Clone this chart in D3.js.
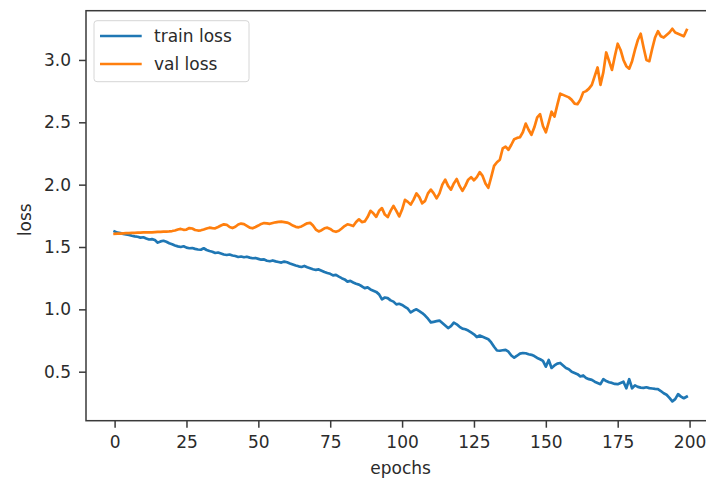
<!DOCTYPE html>
<html>
<head>
<meta charset="utf-8">
<script src="https://cdn.jsdelivr.net/npm/d3@7"></script>
<style>
  body { margin: 0; background: #fff; }
  svg text { font-family: "DejaVu Sans", sans-serif; fill: #2b2b2b; }
</style>
</head>
<body>
<div id="chart"></div>
<script>
// losses per epoch
var trainLoss = [
  1.625, 1.615, 1.612, 1.605, 1.600, 1.596, 1.590, 1.585, 1.582, 1.575,
  1.578, 1.568, 1.560, 1.563, 1.556, 1.535, 1.545, 1.550, 1.542, 1.530,
  1.522, 1.512, 1.505, 1.500, 1.506, 1.495, 1.490, 1.492, 1.485, 1.480,
  1.478, 1.490, 1.476, 1.468, 1.462, 1.452, 1.456, 1.448, 1.440, 1.436,
  1.440, 1.432, 1.428, 1.420, 1.424, 1.418, 1.422, 1.415, 1.410, 1.412,
  1.405, 1.398, 1.400, 1.390, 1.386, 1.392, 1.385, 1.380, 1.375, 1.383,
  1.378, 1.368, 1.360, 1.352, 1.345, 1.340, 1.348, 1.338, 1.330, 1.322,
  1.316, 1.320, 1.310, 1.300, 1.292, 1.285, 1.272, 1.276, 1.262, 1.250,
  1.240, 1.222, 1.228, 1.215, 1.205, 1.198, 1.185, 1.170, 1.176, 1.160,
  1.150, 1.140, 1.120, 1.080, 1.095, 1.090, 1.072, 1.062, 1.040, 1.045,
  1.035, 1.020, 1.005, 0.975, 0.990, 1.000, 0.985, 0.970, 0.950, 0.925,
  0.895, 0.900, 0.905, 0.910, 0.890, 0.870, 0.850, 0.865, 0.893, 0.880,
  0.860, 0.845, 0.840, 0.830, 0.815, 0.800, 0.778, 0.790, 0.780, 0.770,
  0.760, 0.735, 0.700, 0.670, 0.668, 0.672, 0.675, 0.660, 0.630, 0.612,
  0.628, 0.645, 0.650, 0.648, 0.640, 0.635, 0.625, 0.610, 0.600, 0.586,
  0.540, 0.594, 0.530, 0.550, 0.565, 0.570, 0.550, 0.530, 0.520, 0.500,
  0.490, 0.480, 0.462, 0.470, 0.450, 0.440, 0.434, 0.420, 0.410, 0.400,
  0.440, 0.425, 0.415, 0.410, 0.402, 0.400, 0.410, 0.420, 0.367, 0.440,
  0.367, 0.390, 0.378, 0.372, 0.370, 0.375, 0.368, 0.365, 0.362, 0.360,
  0.345, 0.327, 0.315, 0.290, 0.262, 0.280, 0.320, 0.300, 0.287, 0.300
];

var valLoss = [
  1.605, 1.607, 1.608, 1.610, 1.612, 1.612, 1.613, 1.614, 1.615, 1.616,
  1.617, 1.617, 1.618, 1.618, 1.620, 1.621, 1.622, 1.623, 1.624, 1.625,
  1.628, 1.632, 1.640, 1.645, 1.638, 1.640, 1.652, 1.648, 1.636, 1.632,
  1.634, 1.640, 1.648, 1.655, 1.652, 1.650, 1.660, 1.672, 1.682, 1.678,
  1.660, 1.652, 1.662, 1.680, 1.688, 1.684, 1.670, 1.655, 1.650, 1.660,
  1.672, 1.685, 1.692, 1.690, 1.686, 1.692, 1.698, 1.702, 1.703, 1.700,
  1.696, 1.686, 1.672, 1.662, 1.658, 1.665, 1.678, 1.690, 1.694, 1.672,
  1.640, 1.625, 1.635, 1.650, 1.655, 1.645, 1.628, 1.622, 1.630, 1.648,
  1.668, 1.682, 1.676, 1.668, 1.700, 1.722, 1.700, 1.705, 1.740, 1.790,
  1.770, 1.742, 1.790, 1.812, 1.760, 1.740, 1.790, 1.830, 1.790, 1.745,
  1.800, 1.878, 1.862, 1.840, 1.880, 1.930, 1.900, 1.850, 1.870, 1.930,
  1.960, 1.930, 1.890, 1.930, 2.000, 2.040, 1.990, 1.960, 2.010, 2.045,
  1.990, 1.950, 1.990, 2.040, 2.060, 2.035, 2.060, 2.100, 2.070, 2.010,
  1.975, 2.060, 2.150, 2.180, 2.200, 2.290, 2.305, 2.280, 2.320, 2.365,
  2.375, 2.380, 2.420, 2.490, 2.440, 2.400, 2.460, 2.540, 2.565, 2.470,
  2.420, 2.500, 2.585, 2.545, 2.640, 2.730, 2.720, 2.710, 2.700, 2.680,
  2.650, 2.645, 2.680, 2.740, 2.750, 2.770, 2.800, 2.870, 2.940, 2.800,
  2.900, 3.060, 2.990, 2.920, 3.030, 3.130, 3.080, 3.000, 2.950, 2.930,
  2.990, 3.080, 3.160, 3.210, 3.100, 3.000, 2.990, 3.090, 3.180, 3.230,
  3.190, 3.180, 3.200, 3.220, 3.250, 3.220, 3.210, 3.200, 3.190, 3.240
];

var xTicks = [0, 25, 50, 75, 100, 125, 150, 175, 200];
var yTicks = [0.5, 1.0, 1.5, 2.0, 2.5, 3.0];
var seriesNames = ["train loss", "val loss"];
var seriesColors = ["#1f77b4", "#ff7f0e"];

// svg box size
var width = 706,
    height = 483;

// plot area (right spine runs past the picture edge)
var plot = { left: 86, right: 715.3, top: 10.7, bottom: 420.7 };

var svg = d3.select("#chart").append("svg")
    .attr("width", width)
    .attr("height", height);

svg.append("rect")
    .attr("width", width)
    .attr("height", height)
    .attr("fill", "#fff");

        //////////////
        // scales
        //////////////

var x = d3.scaleLinear()
    .domain([-9.95, 208.95])
    .range([plot.left, plot.right]);

var y = d3.scaleLinear()
    .domain([0.107, 3.395])
    .range([plot.bottom, plot.top]);

// axes
var xAxis = svg.append("g")
    .attr("transform", "translate(0," + plot.bottom + ")")
    .call(d3.axisBottom(x).tickValues(xTicks).tickSize(7).tickPadding(8).tickSizeOuter(0));

var yAxis = svg.append("g")
    .attr("transform", "translate(" + plot.left + ",0)")
    .call(d3.axisLeft(y).tickValues(yTicks).tickFormat(d3.format(".1f")).tickSize(7).tickPadding(8).tickSizeOuter(0));

[xAxis, yAxis].forEach(function(g) {
    g.selectAll(".domain").remove();
    g.selectAll("line").attr("stroke", "#3a3a3a").attr("stroke-width", 1.5);
    g.selectAll("text").style("font-size", "17px").attr("fill", "#2b2b2b");
});

// spines
svg.append("rect")
    .attr("x", plot.left)
    .attr("y", plot.top)
    .attr("width", plot.right - plot.left)
    .attr("height", plot.bottom - plot.top)
    .attr("fill", "none")
    .attr("stroke", "#3a3a3a")
    .attr("stroke-width", 1.5);

// axis labels
svg.append("text")
    .attr("x", (plot.left + plot.right) / 2)
    .attr("y", 474)
    .attr("text-anchor", "middle")
    .style("font-size", "17px")
    .text("epochs");

svg.append("text")
    .attr("transform", "translate(30.5," + ((plot.top + plot.bottom) / 2 + 4) + ") rotate(-90)")
    .attr("text-anchor", "middle")
    .style("font-size", "17px")
    .text("loss");

        //////////////
        // lines
        //////////////

var line = d3.line()
    .x(function(d, i) { return x(i); })
    .y(function(d) { return y(d); });

[trainLoss, valLoss].forEach(function(series, k) {
    svg.append("path")
        .datum(series)
        .attr("d", line)
        .attr("fill", "none")
        .attr("stroke", seriesColors[k])
        .attr("stroke-width", 2.7)
        .attr("stroke-linejoin", "round")
        .attr("stroke-linecap", "square");
});

// legend
var legend = svg.append("g");

legend.append("rect")
    .attr("x", 94)
    .attr("y", 20.7)
    .attr("width", 155)
    .attr("height", 61)
    .attr("rx", 3)
    .attr("fill", "#fff")
    .attr("fill-opacity", 0.8)
    .attr("stroke", "#d6d6d6");

seriesNames.forEach(function(name, k) {
    var ly = 36 + k * 28;
    legend.append("line")
        .attr("x1", 100)
        .attr("x2", 141.7)
        .attr("y1", ly)
        .attr("y2", ly)
        .attr("stroke", seriesColors[k])
        .attr("stroke-width", 2.7);
    legend.append("text")
        .attr("x", 154)
        .attr("y", ly)
        .attr("dy", "0.35em")
        .style("font-size", "17px")
        .text(name);
});
</script>
</body>
</html>
